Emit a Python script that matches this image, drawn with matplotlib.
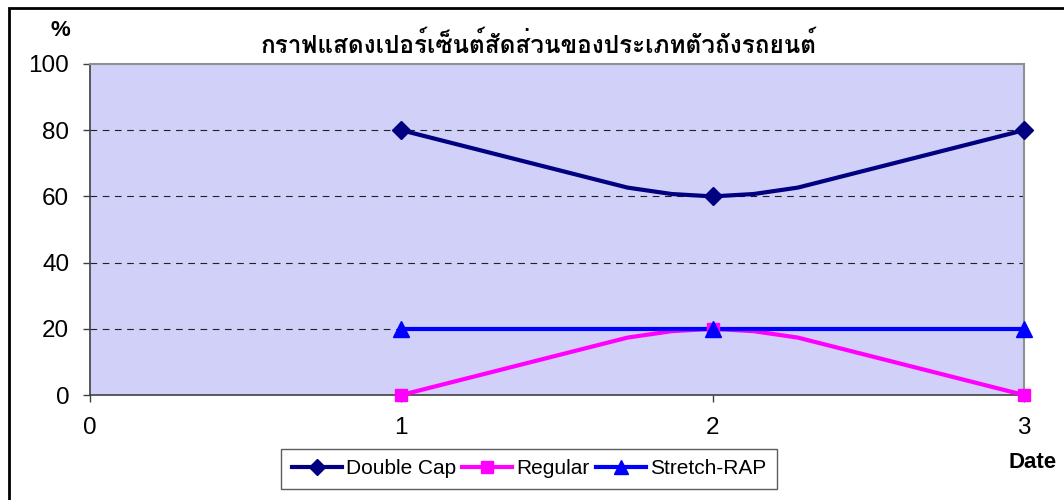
import matplotlib
matplotlib.use("Agg")
import matplotlib.pyplot as plt
from matplotlib import font_manager
from matplotlib.ft2font import FT2Font
from matplotlib.patches import Rectangle
from matplotlib.lines import Line2D
import numpy as np

# ---- data ----
dates = [1, 2, 3]
double_cap = [80, 60, 80]
regular = [0, 20, 0]
stretch_rap = [20, 20, 20]
series_names = ["Double Cap", "Regular", "Stretch-RAP"]
x_ticks = [0, 1, 2, 3]
y_ticks = [0, 20, 40, 60, 80, 100]
title = "กราฟแสดงเปอร์เซ็นต์สัดส่วนของประเภทตัวถังรถยนต์"

# ---- find a font with Thai glyphs ----
thai_font = None
for f in font_manager.fontManager.ttflist:
    try:
        cm = FT2Font(f.fname).get_charmap()
        if 0x0E01 in cm and 0x0E32 in cm:
            thai_font = f.name
            break
    except Exception:
        pass
title_family = [thai_font, "DejaVu Sans"] if thai_font else ["DejaVu Sans"]

plt.rcParams['font.family'] = ['Liberation Sans', 'DejaVu Sans']

fig = plt.figure(figsize=(10.64, 5.0), dpi=100)
fig.patch.set_facecolor('white')
ax = fig.add_axes([90/1064, 105/500, (1024-90)/1064, (395-64)/500])
ax.set_facecolor('#D0D0F8')


def excel_smooth(xs, ys):
    """Excel-like smoothed line: Bezier segments rendered as a coarse polyline."""
    pts = np.column_stack([xs, ys]).astype(float)
    n = len(pts)
    out = [pts[0]]
    for i in range(n - 1):
        p0 = pts[i - 1] if i > 0 else pts[i]
        p1 = pts[i]
        p2 = pts[i + 1]
        p3 = pts[i + 2] if i + 2 < n else pts[i + 1]
        c1 = p1 + (p2 - p0) / 6.0
        c2 = p2 - (p3 - p1) / 6.0
        if i == 0:
            ts = [0.75, 0.875, 1.0]
        else:
            ts = [0.125, 0.25, 1.0]
        for t in ts:
            b = ((1 - t) ** 3) * p1 + 3 * ((1 - t) ** 2) * t * c1 \
                + 3 * (1 - t) * t * t * c2 + t ** 3 * p2
            out.append(b)
    out = np.array(out)
    return out[:, 0], out[:, 1]


styles = [
    dict(color='#000080', marker='D', ms=9),
    dict(color='#FF00FF', marker='s', ms=9),
    dict(color='#0000FF', marker='^', ms=11),
]
data = [double_cap, regular, stretch_rap]
handles = []
for vals, st, name in zip(data, styles, series_names):
    sx, sy = excel_smooth(dates, vals)
    ax.plot(sx, sy, color=st['color'], lw=3.0, zorder=3, clip_on=False,
            solid_joinstyle='round')
    ax.plot(dates, vals, linestyle='none', marker=st['marker'], ms=st['ms'],
            color=st['color'], zorder=4, clip_on=False)
    handles.append(Line2D([], [], color=st['color'], lw=3.0, marker=st['marker'],
                          ms=st['ms'] - 1, label=name))

ax.set_xlim(0, 3)
ax.set_ylim(0, 100)
ax.set_xticks(x_ticks)
ax.set_yticks(y_ticks)
ax.set_xticklabels([str(v) for v in x_ticks])
ax.set_yticklabels([str(v) for v in y_ticks])
ax.tick_params(axis='both', labelsize=17.5, direction='out', length=5, width=1,
               color='#404040')
ax.tick_params(axis='y', pad=10)
ax.tick_params(axis='x', pad=11)
for yv in y_ticks[1:-1]:
    ax.axhline(yv, color='#222222', lw=0.8, ls=(0, (6, 5)), zorder=1)
for s in ['top', 'right']:
    ax.spines[s].set_color('#909090')
    ax.spines[s].set_linewidth(1.5)
for s in ['left', 'bottom']:
    ax.spines[s].set_color('#404040')
    ax.spines[s].set_linewidth(1.2)

fig.text(539/1064, 1 - 45/500, title, ha='center', va='center', fontsize=17.5,
         fontweight='bold', family=title_family)
fig.text(60/1064, 1 - 31/500, '%', ha='center', va='center', fontsize=16,
         fontweight='bold')
fig.text(1033/1064, 1 - 462/500, 'Date', ha='center', va='center', fontsize=16,
         fontweight='bold')

leg = fig.legend(handles=handles, loc='center', bbox_to_anchor=(529/1064, 1 - 469/500),
                 ncol=3, frameon=True, fancybox=False, fontsize=15,
                 handlelength=2.4, handletextpad=0.2, columnspacing=0.3,
                 borderpad=0.5, borderaxespad=0, edgecolor='#333333')
leg.get_frame().set_linewidth(1.0)

fig.add_artist(Rectangle((9/1064, -0.1), 1.2, 1 - 8/500 + 0.1, transform=fig.transFigure,
                         fill=False, edgecolor='black', lw=2.0))

fig.savefig('out.png', dpi=100)
